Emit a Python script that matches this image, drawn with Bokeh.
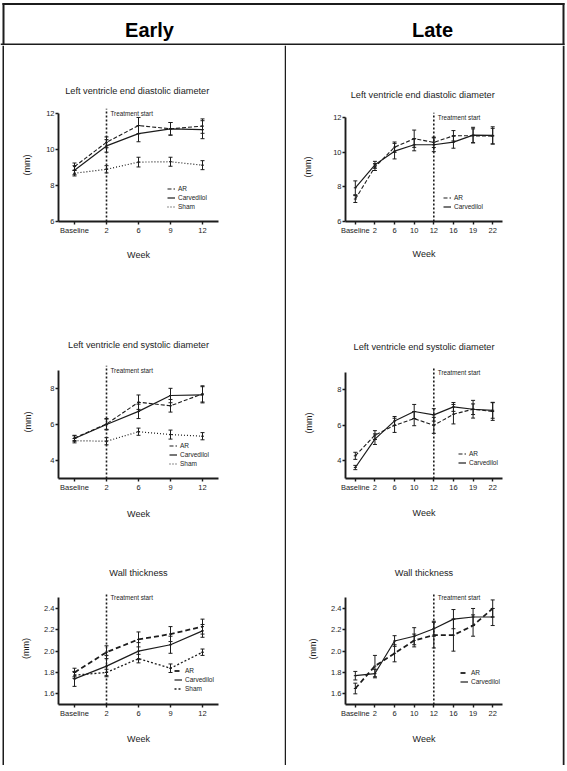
from bokeh.plotting import figure
from bokeh.models import (FactorRange, Range1d, FixedTicker, Whisker, TeeHead,
                          ColumnDataSource, Legend, LegendItem, NumeralTickFormatter)
from bokeh.layouts import column, row
from bokeh.core.properties import value
from bokeh.embed import file_html
from bokeh.resources import INLINE

FONT = "Liberation Sans"
INK = "#1c1c1c"

# ---------------- data ----------------
early_weeks = ["Baseline", "2", "6", "9", "12"]
late_weeks = ["Baseline", "2", "6", "10", "12", "16", "19", "22"]

# Early - LV end diastolic diameter (mm)
e_lvedd_ar = [9.05, 10.40, 11.33, 11.15, 11.30]
e_lvedd_ar_err = [0.20, 0.30, 0.45, 0.35, 0.40]
e_lvedd_carv = [8.85, 10.20, 10.88, 11.15, 11.10]
e_lvedd_carv_err = [0.25, 0.35, 0.45, 0.35, 0.50]
e_lvedd_sham = [8.68, 8.90, 9.30, 9.32, 9.13]
e_lvedd_sham_err = [0.15, 0.20, 0.27, 0.25, 0.25]

# Early - LV end systolic diameter (mm)
e_lvesd_ar = [5.25, 6.03, 7.24, 7.04, 7.70]
e_lvesd_ar_err = [0.15, 0.30, 0.40, 0.35, 0.45]
e_lvesd_carv = [5.22, 6.00, 6.73, 7.61, 7.65]
e_lvesd_carv_err = [0.15, 0.30, 0.40, 0.40, 0.45]
e_lvesd_sham = [5.10, 5.07, 5.60, 5.44, 5.35]
e_lvesd_sham_err = [0.12, 0.20, 0.20, 0.25, 0.20]

# Early - wall thickness (mm)
e_wt_ar = [1.80, 1.99, 2.11, 2.16, 2.23]
e_wt_ar_err = [0.04, 0.06, 0.07, 0.07, 0.07]
e_wt_carv = [1.74, 1.86, 2.00, 2.06, 2.19]
e_wt_carv_err = [0.07, 0.10, 0.08, 0.08, 0.06]
e_wt_sham = [1.775, 1.80, 1.93, 1.84, 1.99]
e_wt_sham_err = [0.03, 0.03, 0.04, 0.04, 0.03]

# Late - LV end diastolic diameter (mm)
l_lvedd_ar = [7.30, 9.15, 10.30, 10.79, 10.58, 10.96, 10.96, 10.94]
l_lvedd_ar_err = [0.20, 0.20, 0.30, 0.50, 0.30, 0.30, 0.40, 0.45]
l_lvedd_carv = [7.95, 9.28, 10.07, 10.44, 10.44, 10.59, 11.00, 10.98]
l_lvedd_carv_err = [0.40, 0.20, 0.45, 0.35, 0.40, 0.35, 0.45, 0.50]

# Late - LV end systolic diameter (mm)
l_lvesd_ar = [4.28, 5.45, 6.00, 6.38, 6.00, 6.63, 6.91, 6.78]
l_lvesd_ar_err = [0.20, 0.25, 0.40, 0.40, 0.45, 0.55, 0.50, 0.50]
l_lvesd_carv = [3.62, 5.22, 6.25, 6.78, 6.59, 7.04, 6.91, 6.85]
l_lvesd_carv_err = [0.12, 0.30, 0.25, 0.40, 0.35, 0.25, 0.30, 0.45]

# Late - wall thickness (mm)
l_wt_ar = [1.65, 1.86, 1.98, 2.10, 2.15, 2.15, 2.24, 2.40]
l_wt_ar_err = [0.05, 0.10, 0.08, 0.06, 0.12, 0.15, 0.10, 0.08]
l_wt_carv = [1.77, 1.79, 2.095, 2.14, 2.21, 2.30, 2.32, 2.32]
l_wt_carv_err = [0.04, 0.04, 0.05, 0.08, 0.07, 0.09, 0.08, 0.08]

titles = {
    "lvedd": "Left ventricle end diastolic  diameter",
    "lvesd": "Left ventricle end systolic diameter",
    "wt": "Wall thickness",
}
y_label = "(mm)"
x_label = "Week"
treat_label = "Treatment start"
col_headers = ["Early", "Late"]

# ---------------- layout constants (page pixels) ----------------
PAGE_W = 567
HDR_H = 45
BODY_H = 720
LEFT_X, LEFT_W = 4, 280
DIV_W = 2
RIGHT_X, RIGHT_W = 286, 276
EDGE_L, EDGE_R = 4, 5
FOOT_H = 4
LINE = 2

STD = {"AR": dict(line_dash="4 2", line_width=1.1),
       "Carvedilol": dict(line_dash="solid", line_width=1.2),
       "Sham": dict(line_dash="1 2", line_width=1.2)}
STD_WT = {"AR": dict(line_dash="5 3", line_width=1.8),
          "Carvedilol": dict(line_dash="solid", line_width=1.2),
          "Sham": dict(line_dash="2 2", line_width=1.3)}


def panel(title, weeks, series, treat_week, ymin, ymax, yticks, fmt,
          frame, box, axis_top, title_st, xl_st, yl_st, leg_xy, styles):
    left, top, right, bottom = frame
    x0, y0, w, h = box
    per = (bottom - axis_top) / (ymax - ymin)
    yend = ymin + (bottom - top) / per
    p = figure(width=w, height=h, x_range=FactorRange(factors=weeks),
               y_range=Range1d(ymin, yend), toolbar_location=None,
               output_backend="svg", outline_line_color=None,
               min_border_left=left - x0, min_border_right=x0 + w - right,
               min_border_top=top - y0, min_border_bottom=y0 + h - bottom,
               background_fill_color="white", border_fill_color="white")
    p.title.text = title
    p.title.align = "center"
    p.title.text_font = FONT
    p.title.text_font_size = "9.2px"
    p.title.text_font_style = "normal"
    p.title.text_color = INK
    p.title.standoff = title_st
    p.grid.visible = False

    for ax in (p.xaxis[0], p.yaxis[0]):
        ax.axis_line_width = 1.9
        ax.axis_line_color = INK
        ax.major_tick_line_width = 1.4
        ax.major_tick_line_color = INK
        ax.major_tick_out = 3
        ax.major_tick_in = 0
        ax.minor_tick_line_color = None
        ax.major_label_text_font = FONT
        ax.major_label_text_font_size = "7.5px"
        ax.major_label_text_color = INK
        ax.axis_label_text_font = FONT
        ax.axis_label_text_font_size = "9px"
        ax.axis_label_text_font_style = "normal"
        ax.axis_label_text_color = INK
    p.xaxis[0].major_label_standoff = 1
    p.yaxis[0].major_label_standoff = 1
    p.xaxis[0].axis_label = x_label
    p.xaxis[0].axis_label_standoff = xl_st
    p.yaxis[0].axis_label = y_label
    p.yaxis[0].axis_label_standoff = yl_st
    p.yaxis[0].ticker = FixedTicker(ticks=yticks)
    p.yaxis[0].formatter = NumeralTickFormatter(format=fmt)
    p.yaxis[0].bounds = (ymin, ymax)

    # treatment start marker
    p.segment(x0=[treat_week], y0=[ymin], x1=[treat_week], y1=[yend],
              line_color=INK, line_width=1.6, line_dash="2 2")
    p.text(x=[treat_week], y=[ymax], text=[treat_label], x_offset=4,
           text_baseline="middle", text_align="left",
           text_font=value(FONT), text_font_size="6.3px", text_color=INK)

    items = []
    for name, vals, errs in series:
        src = ColumnDataSource(dict(x=weeks, y=vals,
                                    upper=[v + e for v, e in zip(vals, errs)],
                                    lower=[v - e for v, e in zip(vals, errs)]))
        r = p.line(x="x", y="y", source=src, line_color=INK, **styles[name])
        wk = Whisker(source=src, base="x", upper="upper", lower="lower",
                     line_color=INK, line_width=1.0,
                     upper_head=TeeHead(size=4, line_color=INK, line_width=1.0),
                     lower_head=TeeHead(size=4, line_color=INK, line_width=1.0))
        p.add_layout(wk)
        p.scatter(x="x", y="y", source=src, marker="dash", size=3,
                  line_color=INK, line_width=1)
        items.append(LegendItem(label=name, renderers=[r]))

    leg = Legend(items=items, location=leg_xy, background_fill_alpha=0,
                 border_line_color=None, padding=0, margin=0, spacing=0,
                 glyph_width=8, glyph_height=9, label_height=9,
                 label_standoff=3, label_text_font=FONT,
                 label_text_font_size="6.5px", label_text_color=INK)
    p.add_layout(leg)
    return p


e1 = panel(titles["lvedd"], early_weeks,
           [("AR", e_lvedd_ar, e_lvedd_ar_err),
            ("Carvedilol", e_lvedd_carv, e_lvedd_carv_err),
            ("Sham", e_lvedd_sham, e_lvedd_sham_err)],
           "2", 6, 12, [6, 8, 10, 12], "0",
           (58, 108, 220, 221), (LEFT_X, 45, LEFT_W, 255), 113, 25, 12, 11,
           (109, 10), STD)
e2 = panel(titles["lvesd"], early_weeks,
           [("AR", e_lvesd_ar, e_lvesd_ar_err),
            ("Carvedilol", e_lvesd_carv, e_lvesd_carv_err),
            ("Sham", e_lvesd_sham, e_lvesd_sham_err)],
           "2", 3, 9, [4, 6, 8], "0",
           (58, 365, 220, 478), (LEFT_X, 300, LEFT_W, 250), 370, 31, 14, 14,
           (111, 10), STD)
e3 = panel(titles["wt"], early_weeks,
           [("AR", e_wt_ar, e_wt_ar_err),
            ("Carvedilol", e_wt_carv, e_wt_carv_err),
            ("Sham", e_wt_sham, e_wt_sham_err)],
           "2", 1.5, 2.5, [1.6, 1.8, 2.0, 2.2, 2.4], "0.0",
           (57, 592, 218, 704), (LEFT_X, 550, LEFT_W, 215), 597.3, 29, 13, 10,
           (116, 11), STD_WT)
l1 = panel(titles["lvedd"], late_weeks,
           [("AR", l_lvedd_ar, l_lvedd_ar_err),
            ("Carvedilol", l_lvedd_carv, l_lvedd_carv_err)],
           "12", 6, 12, [6, 8, 10, 12], "0",
           (345, 112, 502, 221), (RIGHT_X, 45, RIGHT_W, 255), 117.3, 26, 11, 17,
           (98, 10), STD)
l2 = panel(titles["lvesd"], late_weeks,
           [("AR", l_lvesd_ar, l_lvesd_ar_err),
            ("Carvedilol", l_lvesd_carv, l_lvesd_carv_err)],
           "12", 3, 9, [4, 6, 8], "0",
           (344, 367, 503, 478), (RIGHT_X, 300, RIGHT_W, 250), 371.7, 31, 13, 20,
           (113, 11), STD)
l3 = panel(titles["wt"], late_weeks,
           [("AR", l_wt_ar, l_wt_ar_err),
            ("Carvedilol", l_wt_carv, l_wt_carv_err)],
           "12", 1.5, 2.5, [1.6, 1.8, 2.0, 2.2, 2.4], "0.0",
           (345, 593, 503, 704), (RIGHT_X, 550, RIGHT_W, 215), 597.3, 31, 13, 10,
           (115, 18), STD_WT)


def blank(w, h, yflip=False):
    f = figure(width=w, height=h, x_range=Range1d(0, w),
               y_range=Range1d(h, 0) if yflip else Range1d(0, h),
               min_border=0, toolbar_location=None, output_backend="svg",
               x_axis_type=None, y_axis_type=None, outline_line_color=None,
               background_fill_color="white", border_fill_color="white")
    f.grid.visible = False
    return f


def vline(w, h, xc):
    f = blank(w, h)
    f.segment(x0=[xc], y0=[0], x1=[xc], y1=[h], line_color=INK, line_width=LINE)
    return f


def hline(w, h, yc, xa, xb):
    f = blank(w, h, yflip=True)
    f.segment(x0=[xa], y0=[yc], x1=[xb], y1=[yc], line_color=INK, line_width=LINE)
    return f


hdr = blank(PAGE_W, HDR_H, yflip=True)
hdr.segment(x0=[2, 3, 563, 0], y0=[3.5, 2.5, 2.5, 44],
            x1=[564, 3, 563, 564], y1=[3.5, HDR_H, HDR_H, 44],
            line_color=INK, line_width=LINE)
hdr.text(x=[149, 432], y=[29.7, 29.7], text=col_headers, text_align="center",
         text_baseline="middle", text_font=value(FONT), text_font_size="20px",
         text_font_style="bold", text_color="black")

body = row(vline(EDGE_L, BODY_H, 3), column(e1, e2, e3), vline(DIV_W, BODY_H, 1),
           column(l1, l2, l3), vline(EDGE_R, BODY_H, 1))
foot = hline(PAGE_W, FOOT_H, 1, 2, 564)
page = column(hdr, body, foot)

open("out.html", "w").write(file_html(page, INLINE))
